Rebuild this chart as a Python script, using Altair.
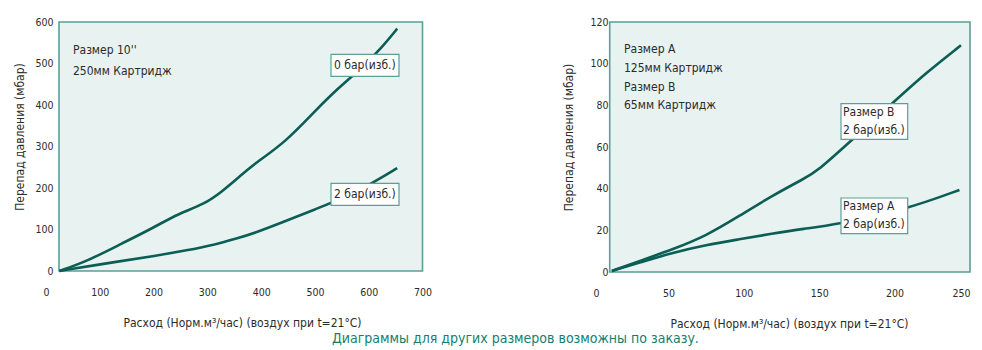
import altair as alt
import pandas as pd

# ---------------- data ----------------
left_x_ticks = [0, 100, 200, 300, 400, 500, 600, 700]
left_y_ticks = [0, 100, 200, 300, 400, 500, 600]
left_top_x = [25, 77, 139, 201, 244, 294, 325, 362, 387, 445, 501, 545, 582, 625, 653]
left_top_y = [0, 24, 65, 105, 137, 161, 189, 230, 258, 310, 387, 443, 483, 539, 584]
left_bot_x = [25, 139, 201, 263, 312, 356, 387, 439, 501, 563, 613, 653]
left_bot_y = [0, 24, 36, 50, 63, 79, 91, 117, 149, 181, 217, 248]

right_x_ticks = [0, 50, 100, 150, 200, 250]
right_y_ticks = [0, 20, 40, 60, 80, 100, 120]
right_b_x = [12.5, 31, 53, 75, 97, 118.5, 140, 149, 171, 199, 221, 244]
right_b_y = [0.5, 5.3, 10.9, 17.3, 26.9, 36.5, 44.8, 48.5, 62.9, 81.3, 95.7, 108.8]
right_a_x = [12.5, 31, 53, 75, 97, 118.5, 140, 160, 208, 243]
right_a_y = [0.5, 4.5, 9.3, 13, 15.7, 18.4, 20.8, 22.5, 30.1, 39.4]

left_note = ["Размер 10''", "250мм Картридж"]
left_labels = ["0 бар(изб.)", "2 бар(изб.)"]
right_note = ["Размер A", "125мм Картридж", "Размер B", "65мм Картридж"]
right_labels = [["Размер B", "2 бар(изб.)"], ["Размер A", "2 бар(изб.)"]]
y_title = "Перепад давления (мбар)"
x_title = "Расход (Норм.м³/час) (воздух при t=21°C)"
caption = "Диаграммы для других размеров возможны по заказу."

# ---------------- style ----------------
FONT = "DejaVu Sans Condensed"
LINE = "#0b5e54"
FILL = "#e8f2f1"
STROKE = "#5a9f98"
TEXT = "#2b2b2b"
CAP = "#13806f"

one = pd.DataFrame({"k": [0]})


def text_layer(s, x, y, size=12):
    return alt.Chart(one).mark_text(
        align="left", baseline="middle", font=FONT, fontSize=size, color=TEXT
    ).encode(x=alt.value(x), y=alt.value(y), text=alt.value(s))


def box_layer(x1, x2, y1, y2):
    return alt.Chart(one).mark_rect(
        fill="white", stroke=STROKE, strokeWidth=1.2
    ).encode(x=alt.value(x1), x2=alt.value(x2), y=alt.value(y1), y2=alt.value(y2))


def panel(series, xdom, ydom, xt, yt, W, H, frame_left, lab_pad, title_pad, flush, layers):
    frames = []
    for name, xs, ys in series:
        frames.append(pd.DataFrame({"x": xs, "y": ys, "s": name}))
    df = pd.concat(frames)
    frame = alt.Chart(one).mark_rect(
        fill=FILL, stroke=STROKE, strokeWidth=1.6
    ).encode(x=alt.value(frame_left), x2=alt.value(W), y=alt.value(0), y2=alt.value(H))
    lines = alt.Chart(df).mark_line(
        color=LINE, strokeWidth=2.6, interpolate="basis"
    ).encode(
        x=alt.X("x:Q", scale=alt.Scale(domain=xdom, nice=False, zero=False),
                axis=alt.Axis(values=xt, title=x_title, grid=False, domain=False,
                              ticks=False, labelPadding=16, titlePadding=20,
                              titleX=196, labelFlush=flush)),
        y=alt.Y("y:Q", scale=alt.Scale(domain=ydom, nice=False),
                axis=alt.Axis(values=yt, title=y_title, grid=False, domain=False,
                              ticks=False, offset=-frame_left, labelPadding=lab_pad,
                              titlePadding=title_pad, titleY=H / 2 - 10)),
        detail="s:N",
    )
    return alt.layer(frame, lines, *layers).properties(width=W, height=H)


left_layers = [
    text_layer(left_note[0], 27, 28.3),
    text_layer(left_note[1], 27, 49),
    box_layer(285, 353, 32.3, 54.3),
    text_layer(left_labels[0], 288, 43.3),
    box_layer(285, 353, 161.3, 183.3),
    text_layer(left_labels[1], 288, 172.3),
]
right_layers = [
    text_layer(right_note[0], 31, 27.3),
    text_layer(right_note[1], 31, 45.8),
    text_layer(right_note[2], 31, 64.6),
    text_layer(right_note[3], 31, 83.3),
    box_layer(248, 314.7, 81.6, 117.3),
    text_layer(right_labels[0][0], 250, 90),
    text_layer(right_labels[0][1], 250, 108),
    box_layer(248, 314.7, 176, 211.6),
    text_layer(right_labels[1][0], 250, 184),
    text_layer(right_labels[1][1], 250, 202.3),
]

left = panel([("0", left_top_x, left_top_y), ("2", left_bot_x, left_bot_y)],
             [0, 700], [0, 600], left_x_ticks, left_y_ticks, 376.5, 249, 13, 6, 8, False,
             left_layers)
right = panel([("B", right_b_x, right_b_y), ("A", right_a_x, right_a_y)],
              [0, 250], [0, 120], right_x_ticks, right_y_ticks, 377, 250, 16.7, 1.7, 14, True,
              right_layers)

chart = alt.hconcat(left, right, spacing=130).properties(
    title=alt.TitleParams(caption, orient="bottom", anchor="middle", dx=23,
                          font=FONT, fontSize=14, fontWeight="normal", color=CAP,
                          offset=2),
    padding={"left": 5, "top": 9, "right": 0, "bottom": 0},
).configure_view(stroke=None).configure_axis(
    labelFont=FONT, labelFontSize=10.5, labelColor=TEXT,
    titleFont=FONT, titleFontSize=12, titleFontWeight="normal", titleColor=TEXT,
)

chart.save("out.html", embed_options={"renderer": "svg", "actions": False})
